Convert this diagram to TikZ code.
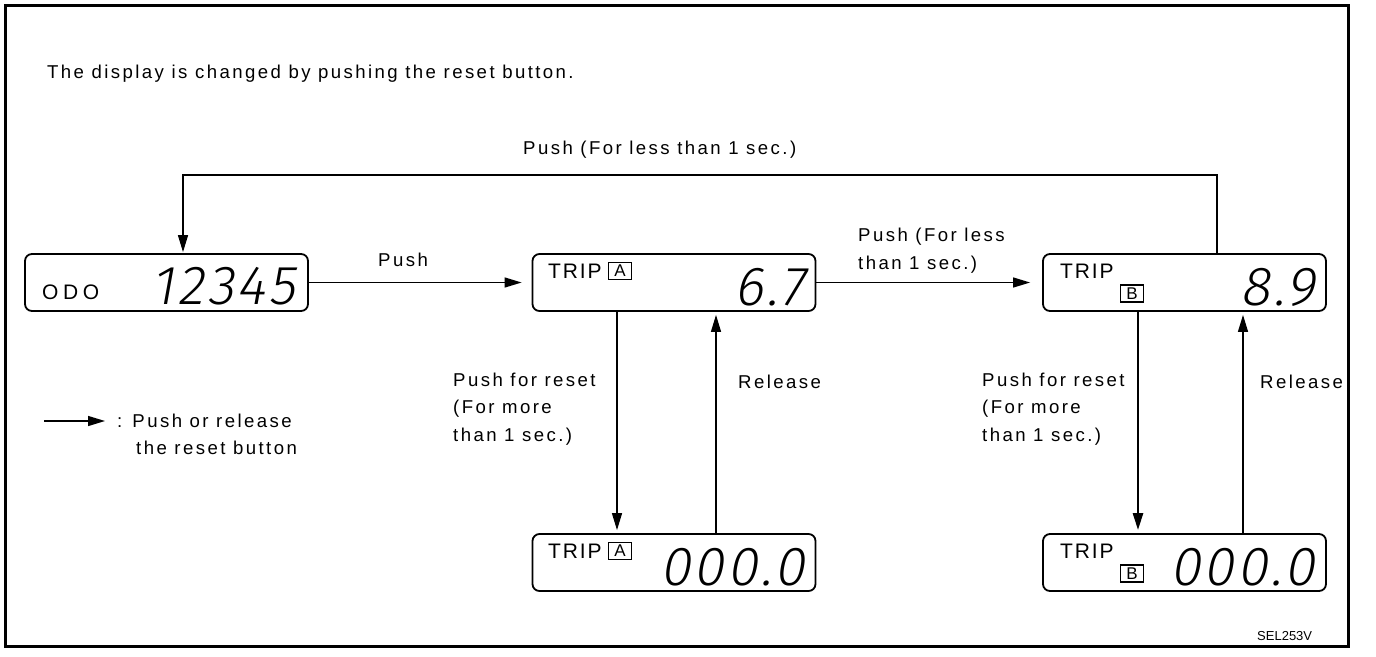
\documentclass[tikz,border=0pt]{standalone}
\usepackage{fontspec}
\setmainfont{Liberation Sans}[LetterSpace=13]
\newfontfamily\lcdfont{Fira Sans Light}[FakeSlant=0.18, LetterSpace=6]
\newfontfamily\tagfont{Liberation Sans}
\usetikzlibrary{arrows.meta}
\begin{document}
\begin{tikzpicture}[x=1pt,y=-1pt,
  lbl/.style={inner sep=0pt, anchor=base west, font=\fontsize{18.6}{20}\selectfont},
  lcd/.style={draw, line width=1.8pt, rounded corners=7pt, minimum width=283pt, minimum height=57pt, inner sep=0pt},
  seg/.style={inner sep=0pt, anchor=base east, font=\fontsize{55}{60}\selectfont\lcdfont},
  conn/.style={line width=1.3pt, -{Triangle[length=17pt,width=10pt]}},
  tag/.style={draw, line width=1.2pt, inner sep=0pt, minimum width=23pt, minimum height=17pt, font=\fontsize{17}{17}\selectfont\tagfont},
  trip/.style={inner sep=0pt, anchor=base west, font=\fontsize{21}{22}\selectfont\addfontfeature{LetterSpace=9}}
]
\path[fill=white] (0,0) rectangle (1376,656);
\draw[line width=3pt] (5.5,5.5) rectangle (1348.5,646);

% displays
\node[lcd] (odo) at (166.5,282.5) {};
\node[lcd] (tripA) at (674,282.5) {};
\node[lcd] (tripB) at (1184.5,282.5) {};
\node[lcd] (tripAz) at (674,562.5) {};
\node[lcd] (tripBz) at (1184.5,562.5) {};

\node[trip, font=\fontsize{21}{22}\selectfont\addfontfeature{LetterSpace=22}] (odoT) at (42,299) {ODO};
\node[seg] (odoN) at (295,304) {12345};
\node[trip] (tA) at (548,278) {TRIP};
\node[tag] (tagA) at (620,271) {A};
\node[seg] (nA) at (805,305) {6.7};
\node[trip] (tB) at (1060,278) {TRIP};
\node[tag] (tagB) at (1132,293.5) {B};
\node[seg] (nB) at (1315,305) {8.9};
\node[trip] (tAz) at (548,558) {TRIP};
\node[tag] (tagAz) at (620,551) {A};
\node[seg] (nAz) at (805,585) {000.0};
\node[trip] (tBz) at (1060,558) {TRIP};
\node[tag] (tagBz) at (1132,573.5) {B};
\node[seg] (nBz) at (1315,585) {000.0};

% connectors
\coordinate (loopY) at (0,175);
\coordinate (bUp) at ([xshift=32.5pt]tripB.north);
\coordinate (odoIn) at ([xshift=16.5pt]odo.north);
\draw[conn, shorten >=1pt] (bUp) |- (odoIn |- loopY) -- (odoIn);
\draw[conn, shorten >=10pt] (odo.east) -- (tripA.west);
\draw[conn, shorten >=12pt] (tripA.east) -- (tripB.west);
\draw[conn, shorten >=3pt] ([xshift=-57pt]tripA.south) -- ([xshift=-57pt]tripAz.north);
\draw[conn, shorten >=3pt] ([xshift=42pt]tripAz.north) -- ([xshift=42pt]tripA.south);
\draw[conn, line width=2.5pt, shorten >=3pt] ([xshift=-46.5pt]tripB.south) -- ([xshift=-46.5pt]tripBz.north);
\draw[conn, shorten >=3pt] ([xshift=58.5pt]tripBz.north) -- ([xshift=58.5pt]tripB.south);

% labels
\node[lbl] (title) at (47,78) {The display is changed by pushing the reset button.};
\node[lbl] (lTop) at (523,154) {Push (For less than 1 sec.)};
\node[lbl] (lPush) at (378,266) {Push};
\node[lbl] (lAB1) at (858,241) {Push (For less};
\node[lbl] (lAB2) at (858,269) {than 1 sec.)};
\node[lbl] (lAr1) at (453,386) {Push for reset};
\node[lbl] (lAr2) at (453,413) {(For more};
\node[lbl] (lAr3) at (453,441) {than 1 sec.)};
\node[lbl] (lArel) at (738,388) {Release};
\node[lbl] (lBr1) at (982,386) {Push for reset};
\node[lbl] (lBr2) at (982,413) {(For more};
\node[lbl] (lBr3) at (982,441) {than 1 sec.)};
\node[lbl] (lBrel) at (1260,388) {Release};

% legend
\coordinate (legS) at (44,421);
\coordinate (legE) at (105,421);
\draw[conn] (legS) -- (legE);
\node[lbl] (leg1) at (117,427) {: Push or release};
\node[lbl] (leg2) at (136,454) {the reset button};

\node[inner sep=0pt, anchor=base west, font=\fontsize{13}{14}\selectfont\addfontfeature{LetterSpace=0}] (sel) at (1257,640) {SEL253V};
\end{tikzpicture}
\end{document}
